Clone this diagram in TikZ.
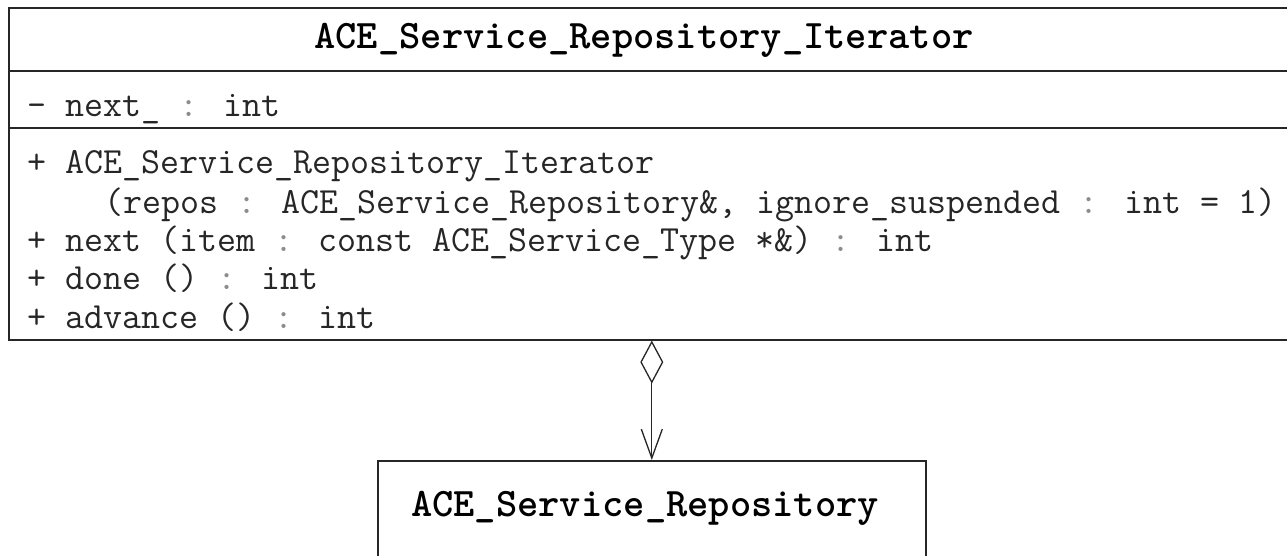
\documentclass[tikz,border=0pt]{standalone}
\usepackage{fontspec}
\usetikzlibrary{arrows.meta}
\tikzset{
  box/.style={draw=black!85, line width=1.6pt, fill=none, inner sep=0pt, anchor=north west},
  sep/.style={draw=black!85, line width=1.6pt},
  title/.style={font=\ttfamily\fontsize{40.5}{44}\selectfont\bfseries, inner sep=0pt, anchor=center},
  member/.style={font=\ttfamily\fontsize{36.9}{40}\selectfont, inner sep=0pt, anchor=base west, text=black!85},
  assoc/.style={draw=black!85, line width=1.3pt,
    {Diamond[open, length=43pt, width=23pt, line width=1.3pt]}-{Straight Barb[length=29pt, width=21pt, line width=1.3pt]}}
}
\newcommand{\cl}{\textcolor{black!45}{:}}
\begin{document}
\begin{tikzpicture}[x=1pt,y=-1pt]
\clip (0,0) rectangle (1287,555);
\fill[white] (0,0) rectangle (1287,555);
% top class
\node[box, minimum width=1300pt, minimum height=332pt] (iter) at (8,7) {};
\draw[sep] (8,71) -- (1310,71);
\draw[sep] (8,128) -- (1310,128);
\node[title] (itertitle) at (644,40) {ACE\_Service\_Repository\_Iterator};
\node[member] (attr) at (27,116) {- next\_ \cl{} int};
\node[member] (op1) at (27,173) {+ ACE\_Service\_Repository\_Iterator};
\node[member] (op1b) at (104,213) {(repos \cl{} ACE\_Service\_Repository\&, ignore\_suspended \cl{} int = 1)};
\node[member] (op2) at (27,251) {+ next (item \cl{} const ACE\_Service\_Type *\&) \cl{} int};
\node[member] (op3) at (27,289) {+ done () \cl{} int};
\node[member] (op4) at (27,328) {+ advance () \cl{} int};
% bottom class
\node[box, minimum width=548pt, minimum height=160pt] (repo) at (377,460) {};
\node[title] (repotitle) at (645,508) {ACE\_Service\_Repository};
% aggregation
\draw[assoc] (iter.south -| repo.north) -- (repo.north);
\end{tikzpicture}
\end{document}
